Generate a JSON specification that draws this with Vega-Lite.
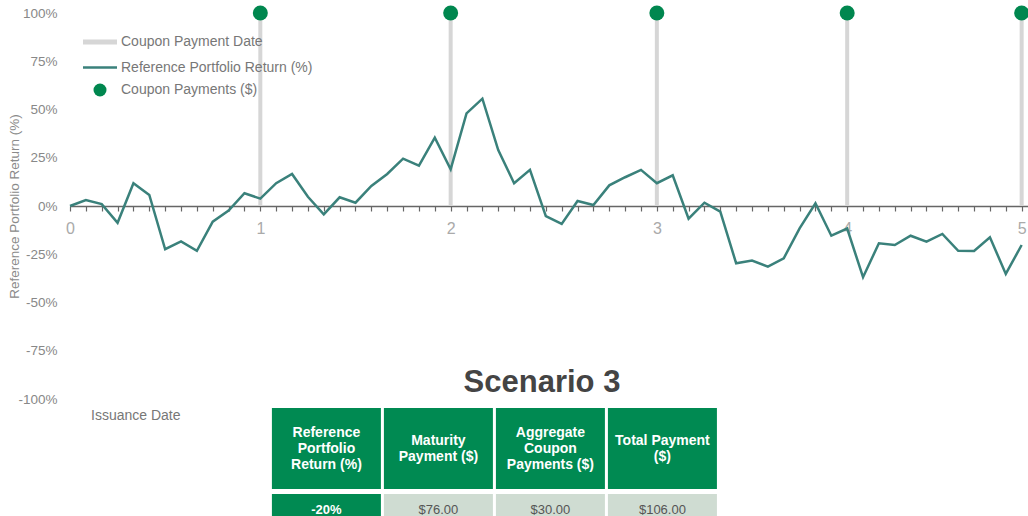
{
  "$schema": "https://vega.github.io/schema/vega-lite/v6.json",
  "padding": {"left": 7, "top": 5, "right": 0, "bottom": 0},
  "bounds": "flush",
  "spacing": 9,
  "config": {
    "font": "Liberation Sans",
    "view": {"stroke": null},
    "legend": {"labelFont": "Liberation Sans"},
    "axis": {"labelFont": "Liberation Sans", "titleFont": "Liberation Sans"}
  },
  "resolve": {"scale": {"x": "independent", "y": "independent", "color": "independent"}},
  "datasets": {
    "returns": [
      {"t": 0, "v": 0}, {"t": 1, "v": 3.1}, {"t": 2, "v": 1}, {"t": 3, "v": -8.7}, {"t": 4, "v": 11.8},
      {"t": 5, "v": 5.7}, {"t": 6, "v": -22.4}, {"t": 7, "v": -18.3}, {"t": 8, "v": -23.2}, {"t": 9, "v": -8.1},
      {"t": 10, "v": -2.4}, {"t": 11, "v": 6.6}, {"t": 12, "v": 3.8}, {"t": 13, "v": 11.8}, {"t": 14, "v": 16.6},
      {"t": 15, "v": 4.8}, {"t": 16, "v": -4.3}, {"t": 17, "v": 4.5}, {"t": 18, "v": 1.7}, {"t": 19, "v": 10.4},
      {"t": 20, "v": 16.6}, {"t": 21, "v": 24.5}, {"t": 22, "v": 20.9}, {"t": 23, "v": 35.4}, {"t": 24, "v": 19},
      {"t": 25, "v": 48}, {"t": 26, "v": 55.6}, {"t": 27, "v": 29}, {"t": 28, "v": 11.8}, {"t": 29, "v": 18.7},
      {"t": 30, "v": -5.2}, {"t": 31, "v": -9.3}, {"t": 32, "v": 2.6}, {"t": 33, "v": 0.5}, {"t": 34, "v": 10.7},
      {"t": 35, "v": 14.9}, {"t": 36, "v": 18.7}, {"t": 37, "v": 11.8}, {"t": 38, "v": 15.9}, {"t": 39, "v": -6.6},
      {"t": 40, "v": 1.7}, {"t": 41, "v": -2.9}, {"t": 42, "v": -29.7}, {"t": 43, "v": -28.3}, {"t": 44, "v": -31.4},
      {"t": 45, "v": -27.1}, {"t": 46, "v": -11.6}, {"t": 47, "v": 1.4}, {"t": 48, "v": -15.4}, {"t": 49, "v": -11.7},
      {"t": 50, "v": -36.9}, {"t": 51, "v": -19.3}, {"t": 52, "v": -20.2}, {"t": 53, "v": -15.4}, {"t": 54, "v": -18.5},
      {"t": 55, "v": -14.5}, {"t": 56, "v": -23.2}, {"t": 57, "v": -23.3}, {"t": 58, "v": -16.2}, {"t": 59, "v": -35.2},
      {"t": 60, "v": -20.2}
    ],
    "coupons": [
      {"t": 12, "year": 1}, {"t": 24, "year": 2}, {"t": 37, "year": 3}, {"t": 49, "year": 4}, {"t": 60, "year": 5}
    ],
    "notes": [{"t": 0, "label": "Issuance Date"}],
    "table": [
      {"row": "header", "col": "c1", "label": "Reference\nPortfolio\nReturn (%)"},
      {"row": "header", "col": "c2", "label": "Maturity\nPayment ($)"},
      {"row": "header", "col": "c3", "label": "Aggregate\nCoupon\nPayments ($)"},
      {"row": "header", "col": "c4", "label": "Total Payment\n($)"},
      {"row": "row", "col": "c1", "label": "-20%"},
      {"row": "row", "col": "c2", "label": "$76.00"},
      {"row": "row", "col": "c3", "label": "$30.00"},
      {"row": "row", "col": "c4", "label": "$106.00"}
    ]
  },
  "vconcat": [
    {
      "width": 958,
      "height": 386,
      "encoding": {
        "x": {
          "field": "t", "type": "quantitative",
          "scale": {"domain": [0, 60.4], "nice": false, "zero": false},
          "axis": {
            "values": [0,1,2,3,4,5,6,7,8,9,10,11,12,13,14,15,16,17,18,19,20,21,22,23,24,25,26,27,28,29,30,31,32,33,34,35,36,37,38,39,40,41,42,43,44,45,46,47,48,49,50,51,52,53,54,55,56,57,58,59,60],
            "labelExpr": "datum.value == 0 ? '0' : datum.value == 12 ? '1' : datum.value == 24 ? '2' : datum.value == 37 ? '3' : datum.value == 49 ? '4' : datum.value == 60 ? '5' : ''",
            "offset": -193,
            "grid": false,
            "title": null,
            "domainColor": "#666666",
            "domainWidth": 1.5,
            "tickColor": "#666666",
            "tickWidth": 1.2,
            "tickSize": 5,
            "labelFontSize": 16,
            "labelColor": "#aaaaaa",
            "labelPadding": 9,
            "labelOverlap": false,
            "labelFlush": false
          }
        }
      },
      "layer": [
        {
          "data": {"name": "coupons"},
          "mark": {"type": "rule", "strokeWidth": 4},
          "encoding": {
            "y": {
              "datum": 0, "type": "quantitative",
              "scale": {"domain": [-100, 100], "nice": false},
              "axis": {
                "values": [-100, -75, -50, -25, 0, 25, 50, 75, 100],
                "labelExpr": "datum.value + '%'",
                "domain": false,
                "ticks": false,
                "labelPadding": 13,
                "labelFontSize": 13.5,
                "labelColor": "#888888",
                "gridColor": "#e6e6e6",
                "gridWidth": 1.5,
                "title": "Reference Portfolio Return (%)",
                "titleFontSize": 13.5,
                "titleFontWeight": "normal",
                "titleColor": "#8a8a8a",
                "titlePadding": -4
              }
            },
            "y2": {"datum": 100},
            "color": {
              "datum": "Coupon Payment Date", "type": "nominal",
              "scale": {
                "domain": ["Coupon Payment Date", "Reference Portfolio Return (%)", "Coupon Payments ($)"],
                "range": ["#d6d6d6", "#3a817b", "#00874f"]
              },
              "legend": {
                "orient": "none",
                "legendX": 23,
                "legendY": 22,
                "title": null,
                "labelFontSize": 14,
                "labelColor": "#777777",
                "labelLimit": 0,
                "symbolType": "stroke",
                "symbolSize": 1156,
                "labelOffset": 14,
                "rowPadding": 8.5,
                "encode": {
                  "symbols": {
                    "update": {
                      "shape": {"signal": "datum.value === 'Coupon Payments ($)' ? 'circle' : 'stroke'"},
                      "size": {"signal": "datum.value === 'Coupon Payments ($)' ? 169 : 1156"},
                      "strokeWidth": {"signal": "datum.value === 'Coupon Payment Date' ? 5 : datum.value === 'Coupon Payments ($)' ? 0 : 2.5"},
                      "stroke": {"signal": "datum.value === 'Coupon Payment Date' ? '#d6d6d6' : datum.value === 'Coupon Payments ($)' ? '#00874f' : '#3a817b'"},
                      "fill": {"signal": "datum.value === 'Coupon Payments ($)' ? '#00874f' : 'transparent'"},
                      "opacity": {"value": 1}
                    }
                  }
                }
              }
            }
          }
        },
        {
          "data": {"name": "returns"},
          "mark": {"type": "line", "strokeWidth": 2.5},
          "encoding": {
            "y": {"field": "v", "type": "quantitative"},
            "color": {"datum": "Reference Portfolio Return (%)", "type": "nominal"}
          }
        },
        {
          "data": {"name": "coupons"},
          "mark": {"type": "point", "filled": true, "size": 225, "opacity": 1},
          "encoding": {
            "y": {"datum": 100, "type": "quantitative"},
            "color": {"datum": "Coupon Payments ($)", "type": "nominal"}
          }
        },
        {
          "data": {"name": "notes"},
          "mark": {"type": "text", "align": "left", "baseline": "alphabetic", "dx": 21, "dy": 21, "fontSize": 14, "color": "#777777"},
          "encoding": {
            "y": {"datum": -100, "type": "quantitative"},
            "text": {"field": "label"}
          }
        }
      ]
    },
    {
      "width": 958,
      "height": 167,
      "title": {"text": "Scenario 3", "fontSize": 31, "fontWeight": "bold", "color": "#444444", "anchor": "middle", "offset": -15, "dx": -7, "baseline": "alphabetic"},
      "data": {"name": "table"},
      "encoding": {
        "x": {
          "field": "col", "type": "nominal",
          "scale": {"domain": ["_l", "c1", "c2", "c3", "c4", "_r1", "_r2"], "paddingInner": 0.0268, "paddingOuter": 0.79, "align": 0.508},
          "axis": null
        },
        "y": {
          "field": "row", "type": "nominal",
          "scale": {"domain": ["header", "row"], "paddingInner": 0.0581, "paddingOuter": 0},
          "axis": null
        }
      },
      "layer": [
        {
          "mark": {"type": "rect"},
          "encoding": {
            "color": {"condition": {"test": "datum.row === 'header' || datum.col === 'c1'", "value": "#008a52"}, "value": "#cfdcd2"}
          }
        },
        {
          "transform": [{"filter": "datum.row === 'header' && split(datum.label, '\\n').length == 3"}],
          "mark": {"type": "text", "lineBreak": "\n", "fontWeight": "bold", "fontSize": 14, "lineHeight": 16, "color": "#ffffff", "baseline": "middle", "dy": -16},
          "encoding": {"text": {"field": "label"}}
        },
        {
          "transform": [{"filter": "datum.row === 'header' && split(datum.label, '\\n').length == 2"}],
          "mark": {"type": "text", "lineBreak": "\n", "fontWeight": "bold", "fontSize": 14, "lineHeight": 16, "color": "#ffffff", "baseline": "middle", "dy": -8},
          "encoding": {"text": {"field": "label"}}
        },
        {
          "transform": [{"filter": "datum.row === 'row' && datum.col === 'c1'"}],
          "mark": {"type": "text", "fontWeight": "bold", "fontSize": 13, "color": "#ffffff", "baseline": "middle"},
          "encoding": {
            "text": {"field": "label"},
            "y": {"field": "row", "type": "nominal", "bandPosition": 0.2}
          }
        },
        {
          "transform": [{"filter": "datum.row === 'row' && datum.col !== 'c1'"}],
          "mark": {"type": "text", "fontSize": 13, "color": "#555555", "baseline": "middle"},
          "encoding": {
            "text": {"field": "label"},
            "y": {"field": "row", "type": "nominal", "bandPosition": 0.2}
          }
        }
      ]
    }
  ]
}
